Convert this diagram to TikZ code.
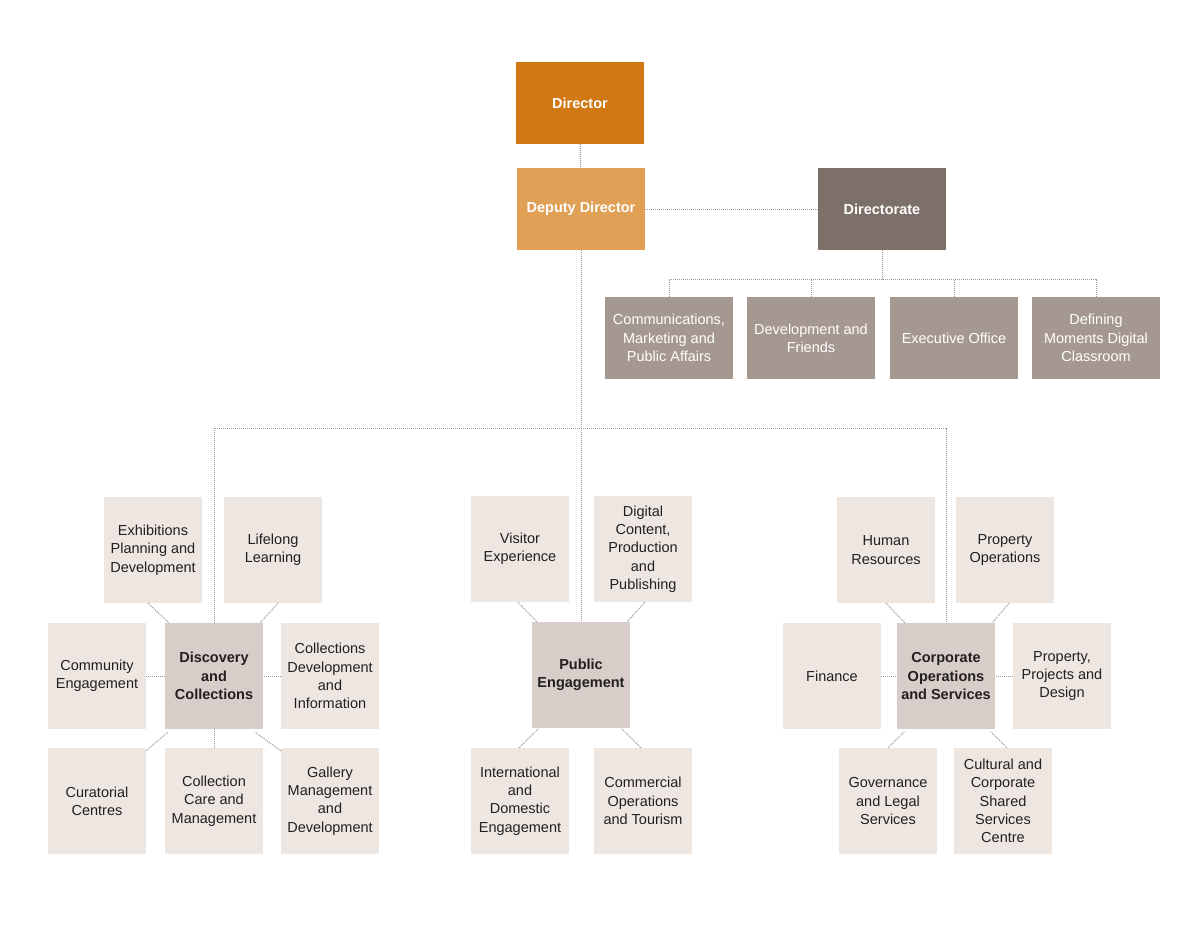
\documentclass[tikz,border=0pt]{standalone}
\usepackage{fontspec}
\setmainfont{Liberation Sans}
\usetikzlibrary{calc}

\definecolor{dirorange}{HTML}{D17812}
\definecolor{deporange}{HTML}{E0A056}
\definecolor{dtebrown}{HTML}{7D7068}
\definecolor{unitbrown}{HTML}{A59890}
\definecolor{groupgrey}{HTML}{D8CEC9}
\definecolor{teamgrey}{HTML}{EEE7E1}
\definecolor{linkgrey}{HTML}{9A9A9A}
\definecolor{textdark}{HTML}{231F20}

\begin{document}
\begin{tikzpicture}[x=1pt, y=-1pt,
    every node/.style={font=\fontsize{14.5}{18.3}\selectfont, inner sep=0pt, align=center},
    topbox/.style={fill=#1, text=white, font=\fontsize{14.5}{18.3}\selectfont\bfseries,
      minimum width=128pt, minimum height=82pt},
    unitbox/.style={fill=unitbrown, text=white, minimum width=128pt, minimum height=82pt},
    groupbox/.style={fill=groupgrey, text=textdark, font=\fontsize{14.5}{18.3}\selectfont\bfseries,
      minimum width=98pt, minimum height=106pt},
    teambox/.style={fill=teamgrey, text=textdark, minimum width=98pt, minimum height=106pt},
    link/.style={draw=linkgrey, line width=1pt, dash pattern=on 1pt off 1pt}]
  \useasboundingbox[fill=white] (0,0) rectangle (1200,927);

  % top of the chart
  \node[topbox=dirorange] (dir) at (580,103) {Director};
  \node[topbox=deporange] (dep) at (581,209) {Deputy Director};
  \node[topbox=dtebrown]  (dte) at (882,209) {Directorate};

  % units under the directorate
  \node[unitbox] (cmp) at (669,338) {Communications,\\Marketing and\\Public Affairs};
  \node[unitbox] (dvf) at (811,338) {Development and\\Friends};
  \node[unitbox] (exo) at (954,338) {Executive Office};
  \node[unitbox] (dmd) at (1096,338) {Defining\\Moments Digital\\Classroom};

  % groups
  \node[groupbox] (dc)  at (214,676) {Discovery\\and\\Collections};
  \node[groupbox] (pe)  at (581,675) {Public\\Engagement};
  \node[groupbox] (cos) at (946,676) {Corporate\\Operations\\and Services};

  % discovery and collections
  \node[teambox] (exh) at (153,550) {Exhibitions\\Planning and\\Development};
  \node[teambox] (lll) at (273,550) {Lifelong\\Learning};
  \node[teambox] (cen) at (97,676)  {Community\\Engagement};
  \node[teambox] (cdi) at (330,676) {Collections\\Development\\and\\Information};
  \node[teambox] (cur) at (97,801)  {Curatorial\\Centres};
  \node[teambox] (ccm) at (214,801) {Collection\\Care and\\Management};
  \node[teambox] (gmd) at (330,801) {Gallery\\Management\\and\\Development};

  % public engagement
  \node[teambox] (vex) at (520,549) {Visitor\\Experience};
  \node[teambox] (dcp) at (643,549) {Digital\\Content,\\Production\\and\\Publishing};
  \node[teambox] (ide) at (520,801) {International\\and\\Domestic\\Engagement};
  \node[teambox] (cot) at (643,801) {Commercial\\Operations\\and Tourism};

  % corporate operations and services
  \node[teambox] (hr)  at (886,550)  {Human\\Resources};
  \node[teambox] (pop) at (1005,550) {Property\\Operations};
  \node[teambox] (fin) at (832,676)  {Finance};
  \node[teambox] (ppd) at (1062,676) {Property,\\Projects and\\Design};
  \node[teambox] (gls) at (888,801)  {Governance\\and Legal\\Services};
  \node[teambox] (ccs) at (1003,801) {Cultural and\\Corporate\\Shared\\Services\\Centre};

  \coordinate (dbar) at (882,279);
  \coordinate (pbar) at (581,428);

  % connectors
  \draw[link] (dir) -- (dep);
  \draw[link] (dep) -- (dte);
  \draw[link] (dte) -- (dbar);
  \draw[link] (cmp.north) |- (dbar) -| (dmd.north);
  \draw[link] (dvf.north) -- (dvf.north |- dbar);
  \draw[link] (exo.north) -- (exo.north |- dbar);
  \draw[link] (dep) -- (pe);
  \draw[link] (dc.north) |- (pbar) -| (cos.north);

  \draw[link] ($(exh.south)+(-5,0)$) -- ($(dc.north west)+(4,0)$);
  \draw[link] ($(lll.south)+(5,0)$) -- ($(dc.north east)+(-3,0)$);
  \draw[link] (cen) -- (dc);
  \draw[link] (cdi) -- (dc);
  \draw[link] ($(cur.north east)+(0,3)$) -- ($(dc.south west)+(3,3)$);
  \draw[link] (ccm) -- (dc);
  \draw[link] ($(gmd.north west)+(0,3)$) -- ($(dc.south east)+(-8,3)$);

  \draw[link] ($(vex.south)+(-2,0)$) -- ($(pe.north west)+(5,0)$);
  \draw[link] ($(dcp.south)+(2,0)$) -- ($(pe.north east)+(-3,0)$);
  \draw[link] ($(ide.north)+(-1,0)$) -- ($(pe.south west)+(7,0)$);
  \draw[link] ($(cot.north)+(-2,0)$) -- ($(pe.south east)+(-9,0)$);

  \draw[link] (hr.south) -- ($(cos.north west)+(8,0)$);
  \draw[link] ($(pop.south)+(4,0)$) -- ($(cos.north east)+(-3,0)$);
  \draw[link] (fin) -- (cos);
  \draw[link] (ppd) -- (cos);
  \draw[link] (gls.north) -- ($(cos.south west)+(8,2)$);
  \draw[link] ($(ccs.north)+(4,0)$) -- ($(cos.south east)+(-5,2)$);
\end{tikzpicture}
\end{document}
